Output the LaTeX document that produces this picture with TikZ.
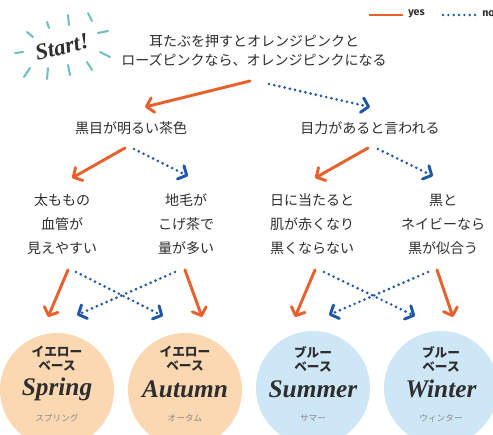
\documentclass[tikz,border=0pt]{standalone}
\usepackage{fontspec}
\newfontfamily\jp{Noto Sans CJK JP}
\newfontfamily\legendfont{Fira Sans}
\newfontfamily\scriptf{Liberation Serif}
\usetikzlibrary{arrows.meta}
\definecolor{orangec}{HTML}{E8602C}
\definecolor{bluec}{HTML}{1F56A6}
\definecolor{peach}{HTML}{FBD8B2}
\definecolor{skyc}{HTML}{CDE7F7}
\definecolor{tealc}{HTML}{6DBCC6}
\definecolor{textc}{HTML}{2E2E2E}
\definecolor{greyc}{HTML}{8A8A8A}
\tikzset{
  yesarrow/.style={draw=orangec, line width=2.2pt, line cap=round,
    -{Straight Barb[length=5pt,width=11pt,round]}},
  noarrow/.style={draw=bluec, line width=2.2pt, line cap=round,
    dash pattern=on 0pt off 4pt, -{Straight Barb[length=5pt,width=11pt,round]}},
  qtext/.style={text=textc, align=center, inner sep=0pt,
    font=\jp\fontsize{10.5pt}{18pt}\selectfont},
  season/.style={circle, minimum size=85.5pt, inner sep=0pt},
  basetext/.style={text=textc, align=center, inner sep=0pt,
    font=\jp\bfseries\fontsize{9.5pt}{10.5pt}\selectfont},
  nametext/.style={text=textc, inner sep=0pt,
    font=\scriptf\fontsize{19pt}{21pt}\selectfont\bfseries\itshape},
  kanatext/.style={text=greyc, inner sep=0pt,
    font=\jp\fontsize{6.5pt}{8pt}\selectfont},
  ray/.style={draw=tealc, line width=1.5pt, line cap=round},
  legendtext/.style={text=textc, inner sep=0pt, anchor=west,
    font=\legendfont\bfseries\fontsize{8pt}{9pt}\selectfont}
}
\begin{document}
\begin{tikzpicture}[x=0.75pt,y=-0.75pt]
\useasboundingbox (0,0) rectangle (493,435);
\fill[white] (0,0) rectangle (493,435);

% legend
\coordinate (ly1) at (369,15);
\coordinate (ly2) at (403,15);
\draw[draw=orangec, line width=2.2pt] (ly1) -- (ly2);
\node[legendtext] (lyes) at (408,14) {yes};
\coordinate (ln1) at (443,15);
\coordinate (ln2) at (475,15);
\draw[draw=bluec, line width=2pt, line cap=round, dash pattern=on 0pt off 4pt] (ln1) -- (ln2);
\node[legendtext] (lno) at (482,14) {no};

% start burst
\draw[ray] (27,32) -- (33,37);
\draw[ray] (47,22) -- (49,28);
\draw[ray] (68,15) -- (69,25);
\draw[ray] (88,13) -- (92,21);
\draw[ray] (98,33) -- (108,31);
\draw[ray] (100,52) -- (110,57);
\draw[ray] (87,62) -- (92,70);
\draw[ray] (68,65) -- (70,75);
\draw[ray] (48,68) -- (47,79);
\draw[ray] (30,68) -- (24,77);
\draw[ray] (15,53) -- (23,52);
\node[text=textc, inner sep=0pt, rotate=14,
  font=\scriptf\fontsize{17pt}{19pt}\selectfont\bfseries\itshape] (start) at (62,47) {Start!};

% question nodes
\node[qtext, font=\jp\fontsize{10.5pt}{14.3pt}\selectfont] (q0) at (254,51)
  {耳たぶを押すとオレンジピンクと\\ローズピンクなら、オレンジピンクになる};
\node[qtext] (q1) at (131,128) {黒目が明るい茶色};
\node[qtext] (q2) at (370,128) {目力があると言われる};
\node[qtext] (q3) at (62,224) {太ももの\\血管が\\見えやすい};
\node[qtext] (q4) at (186,224) {地毛が\\こげ茶で\\量が多い};
\node[qtext] (q5) at (312,224) {日に当たると\\肌が赤くなり\\黒くならない};
\node[qtext] (q6) at (443,224) {黒と\\ネイビーなら\\黒が似合う};

% season circles
\node[season, fill=peach] (spring) at (57,390) {};
\node[season, fill=peach] (autumn) at (185,390) {};
\node[season, fill=skyc] (summer) at (313,388) {};
\node[season, fill=skyc] (winter) at (441,388) {};

\node[basetext] (b1) at (57,359) {イエロー\\ベース};
\node[basetext] (b2) at (185,359) {イエロー\\ベース};
\node[basetext] (b3) at (313,359) {ブルー\\ベース};
\node[basetext] (b4) at (441,359) {ブルー\\ベース};

\node[nametext] (n1) at (57,389) {Spring};
\node[nametext] (n2) at (185,389) {Autumn};
\node[nametext] (n3) at (313,389) {Summer};
\node[nametext] (n4) at (441,389) {Winter};

\node[kanatext] (k1) at (57,418) {スプリング};
\node[kanatext] (k2) at (185,418) {オータム};
\node[kanatext] (k3) at (313,418) {サマー};
\node[kanatext] (k4) at (441,418) {ウィンター};

% arrow end points
\coordinate (a0y) at (250,81);  \coordinate (a0ye) at (145,107);
\coordinate (a0n) at (269,84);  \coordinate (a0ne) at (370,107);
\coordinate (a1y) at (125,148); \coordinate (a1ye) at (72,178);
\coordinate (a1n) at (134,149); \coordinate (a1ne) at (188,176);
\coordinate (a2y) at (368,148); \coordinate (a2ye) at (315,178);
\coordinate (a2n) at (378,149); \coordinate (a2ne) at (433,176);
\coordinate (a3y) at (68,270);  \coordinate (a3ye) at (48,317);
\coordinate (a3n) at (76,272);  \coordinate (a3ne) at (163,316);
\coordinate (a4n) at (175,272); \coordinate (a4ne) at (77,315);
\coordinate (a4y) at (185,270); \coordinate (a4ye) at (202,317);
\coordinate (a5y) at (315,270); \coordinate (a5ye) at (295,317);
\coordinate (a5n) at (324,272); \coordinate (a5ne) at (415,316);
\coordinate (a6n) at (428,272); \coordinate (a6ne) at (329,315);
\coordinate (a6y) at (437,270); \coordinate (a6ye) at (453,317);

\draw[yesarrow] (a0y) -- (a0ye);
\draw[noarrow] (a0n) -- (a0ne);
\draw[yesarrow] (a1y) -- (a1ye);
\draw[noarrow] (a1n) -- (a1ne);
\draw[yesarrow] (a2y) -- (a2ye);
\draw[noarrow] (a2n) -- (a2ne);
\draw[yesarrow] (a3y) -- (a3ye);
\draw[noarrow] (a3n) -- (a3ne);
\draw[noarrow] (a4n) -- (a4ne);
\draw[yesarrow] (a4y) -- (a4ye);
\draw[yesarrow] (a5y) -- (a5ye);
\draw[noarrow] (a5n) -- (a5ne);
\draw[noarrow] (a6n) -- (a6ne);
\draw[yesarrow] (a6y) -- (a6ye);
\end{tikzpicture}
\end{document}
